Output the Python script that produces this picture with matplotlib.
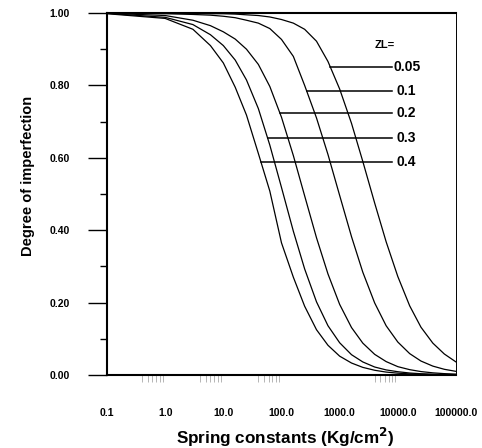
import numpy as np
import matplotlib
matplotlib.use('Agg')
import matplotlib.pyplot as plt
from matplotlib.ticker import FixedLocator, NullFormatter

plt.rcParams['font.family'] = ['Liberation Sans', 'DejaVu Sans']

# spring constant (Kg/cm^2)
spring_k = [0.1, 1, 3, 6, 10, 16, 25, 40, 63, 100, 160, 250, 400, 630,
            1000, 1600, 2500, 4000, 6300, 10000, 16000, 25000, 40000,
            63000, 100000]

# degree of imperfection for each ZL
zl_04 = [0.998, 0.985, 0.955, 0.91, 0.862, 0.795, 0.718, 0.612, 0.508, 0.365,
         0.27, 0.19, 0.125, 0.082, 0.052, 0.033, 0.021, 0.013, 0.008, 0.005,
         0.003, 0.002, 0.001, 0.0006, 0.0004]
zl_03 = [0.999, 0.988, 0.968, 0.94, 0.91, 0.87, 0.815, 0.736, 0.635, 0.518,
         0.397, 0.293, 0.202, 0.136, 0.089, 0.056, 0.036, 0.022, 0.014, 0.009,
         0.0054, 0.0034, 0.0021, 0.0013, 0.0008]
zl_02 = [0.9995, 0.993, 0.98, 0.965, 0.948, 0.928, 0.90, 0.858, 0.797, 0.712,
         0.606, 0.495, 0.379, 0.279, 0.195, 0.131, 0.088, 0.057, 0.037, 0.023,
         0.0147, 0.0094, 0.0059, 0.0037, 0.0024]
zl_01 = [1.0, 0.998, 0.996, 0.994, 0.991, 0.987, 0.98, 0.972, 0.957, 0.927,
         0.88, 0.80, 0.71, 0.609, 0.496, 0.382, 0.284, 0.199, 0.136, 0.091,
         0.059, 0.0385, 0.0245, 0.0157, 0.010]
zl_005 = [1.0, 0.999, 0.999, 0.998, 0.998, 0.997, 0.995, 0.993, 0.989, 0.982,
          0.972, 0.955, 0.922, 0.866, 0.79, 0.695, 0.59, 0.475, 0.368, 0.272,
          0.191, 0.132, 0.088, 0.058, 0.036]

curves = [zl_005, zl_01, zl_02, zl_03, zl_04]
zl_labels = ['0.05', '0.1', '0.2', '0.3', '0.4']
# height at which each leader line meets its curve
leader_y = [0.852, 0.785, 0.725, 0.654, 0.589]

x_ticks = [0.1, 1, 10, 100, 1000, 10000, 100000]
x_ticklabels = ['0.1', '1.0', '10.0', '100.0', '1000.0', '10000.0', '100000.0']
y_ticks = [0.0, 0.2, 0.4, 0.6, 0.8, 1.0]
y_ticklabels = ['0.00', '0.20', '0.40', '0.60', '0.80', '1.00']

fig = plt.figure(figsize=(4.82, 4.48), dpi=100)
ax = fig.add_axes([0.222, 0.163, 0.724, 0.808])

for ys in curves:
    ax.plot(spring_k, ys, color='black', lw=0.9)

ax.set_xscale('log')
ax.set_xlim(0.1, 100000)
ax.set_ylim(0, 1.0)

ax.set_xticks(x_ticks)
ax.set_xticklabels(x_ticklabels, fontsize=7.5, fontweight='bold')
ax.tick_params(axis='x', which='major', length=0, pad=24)
# faint partial minor ticks that survive under the axis in the original
minor_x = [s * d for d in [0.1, 1, 10, 1000] for s in range(4, 10)]
ax.xaxis.set_minor_locator(FixedLocator(minor_x))
ax.xaxis.set_minor_formatter(NullFormatter())
ax.tick_params(axis='x', which='minor', direction='out', length=5,
               width=0.5, color='#999999')

ax.set_yticks(y_ticks)
ax.set_yticklabels(y_ticklabels, fontsize=7.5, fontweight='bold')
ax.yaxis.set_minor_locator(FixedLocator([0.1, 0.3, 0.5, 0.7, 0.9]))
ax.tick_params(axis='y', which='major', direction='out', length=14,
               width=1.0, pad=13)
ax.tick_params(axis='y', which='minor', direction='out', length=5, width=1.0)

ax.spines['left'].set_linewidth(1.5)
ax.spines['bottom'].set_linewidth(1.5)
ax.spines['top'].set_linewidth(1.5)
ax.spines['right'].set_linewidth(0.7)

# leader lines from each curve out to its ZL value
line_end = 10 ** (-1 + 0.817 * 6)
lx = np.log10(spring_k)
for ys, lab, yl in zip(curves, zl_labels, leader_y):
    yv = np.array(ys)
    x0 = 10 ** np.interp(yl, yv[::-1], lx[::-1])
    ax.plot([x0, line_end], [yl, yl], color='black', lw=1.1)
    tx = 0.820 if lab == '0.05' else 0.831
    ax.text(tx, yl, lab, transform=ax.get_yaxis_transform(),
            fontsize=10, fontweight='bold', ha='left', va='center')

ax.text(0.768, 0.912, 'ZL=', transform=ax.get_yaxis_transform(),
        fontsize=8, fontweight='bold', ha='left', va='center')

fig.text(28 / 482, 1 - 176 / 448, 'Degree of imperfection', rotation=90,
         fontsize=10.5, fontweight='bold', ha='center', va='center')
fig.text(285 / 482, 1 - 437 / 448, 'Spring constants (Kg/cm$^\\mathbf{2}$)',
         fontsize=12.3, fontweight='bold', ha='center', va='center')

fig.savefig('out.png', dpi=100)
